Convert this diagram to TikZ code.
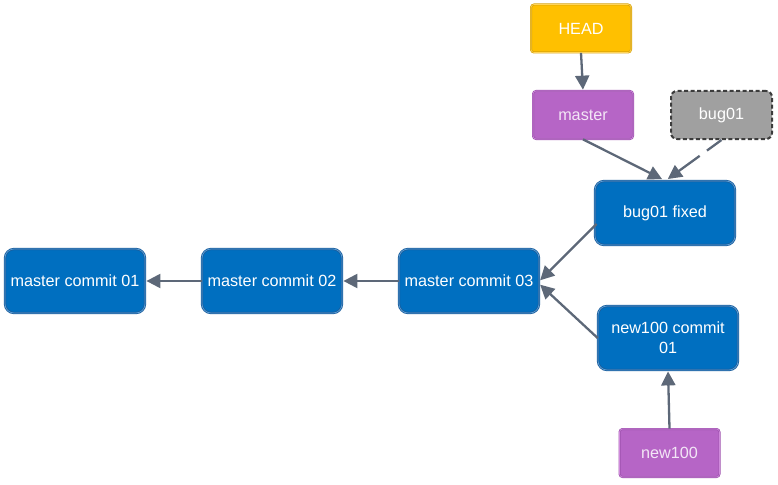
\documentclass[tikz,border=0pt]{standalone}
\usepackage{fontspec}
\setmainfont{Liberation Sans}
\usetikzlibrary{arrows.meta,calc}
\definecolor{cblue}{HTML}{006FC0}
\definecolor{cblueb}{HTML}{1A5D9C}
\definecolor{cbluei}{HTML}{5B9ED6}
\definecolor{cpurp}{HTML}{B665C6}
\definecolor{cpurpb}{HTML}{9E52AE}
\definecolor{cpurpi}{HTML}{D08ADC}
\definecolor{cyel}{HTML}{FFC000}
\definecolor{cyelb}{HTML}{D6A20A}
\definecolor{cyeli}{HTML}{FFD45A}
\definecolor{cgray}{HTML}{A0A0A0}
\definecolor{cdash}{HTML}{3C3C3C}
\definecolor{carrow}{HTML}{5D6878}
\definecolor{ptext}{HTML}{F3E6F6}
\tikzset{
  px/.style={x=1pt,y=-1pt},
  commitbox/.style={rectangle, rounded corners=9pt, fill=cblue, draw=cblueb,
    line width=0.8pt, double=cbluei, double distance=0.7pt,
    minimum width=140pt, minimum height=64pt, text=white, align=center,
    font=\fontsize{16.2}{20}\selectfont, inner sep=1pt},
  branchbox/.style={rectangle, rounded corners=3pt, fill=cpurp, draw=cpurpb,
    line width=0.7pt, double=cpurpi, double distance=0.6pt,
    minimum width=100pt, minimum height=48pt, text=ptext,
    font=\fontsize{16.2}{20}\selectfont},
  headbox/.style={branchbox, fill=cyel, draw=cyelb, double=cyeli, text=white},
  ghostbox/.style={rectangle, rounded corners=6pt, fill=cgray, draw=cdash,
    line width=2pt, dash pattern=on 4pt off 2.5pt,
    minimum width=101pt, minimum height=48pt, text=white,
    font=\fontsize{16.2}{20}\selectfont},
  link/.style={draw=carrow, line width=2.3pt,
    -{Triangle[length=14pt,width=14pt]}, shorten >=1pt},
  dlink/.style={link, dash pattern=on 18pt off 9pt on 40pt}
}
\begin{document}
\begin{tikzpicture}[px]
\useasboundingbox (0,0) rectangle (778,484);
\node[headbox] (head) at (581,28.5) {HEAD};
\node[branchbox] (master) at (583,115) {master};
\node[ghostbox] (bug) at (721.5,115) {bug01};
\node[commitbox] (fix) at (665,213) {bug01 fixed};
\node[commitbox] (m1) at (75,281) {master commit 01};
\node[commitbox] (m2) at (272,281) {master commit 02};
\node[commitbox] (m3) at (469,281) {master commit 03};
\node[commitbox] (n1) at (668,338) {new100 commit\\01};
\node[branchbox] (new) at (669.5,453) {new100};
\draw[link] (head.south) -- (master.north);
\draw[link] (master.south) -- ($(fix.north)+(-2,-1)$);
\draw[dlink] (bug.south) -- ($(fix.north)+(2,-1)$);
\draw[link] ($(fix.west)+(2,11)$) -- (m3.east);
\draw[link] ($(n1.west)+(0,0)$) -- ($(m3.east)+(0,3)$);
\draw[link] (new.north) -- (n1.south);
\draw[link] (m2.west) -- (m1.east);
\draw[link] (m3.west) -- (m2.east);
\end{tikzpicture}
\end{document}
